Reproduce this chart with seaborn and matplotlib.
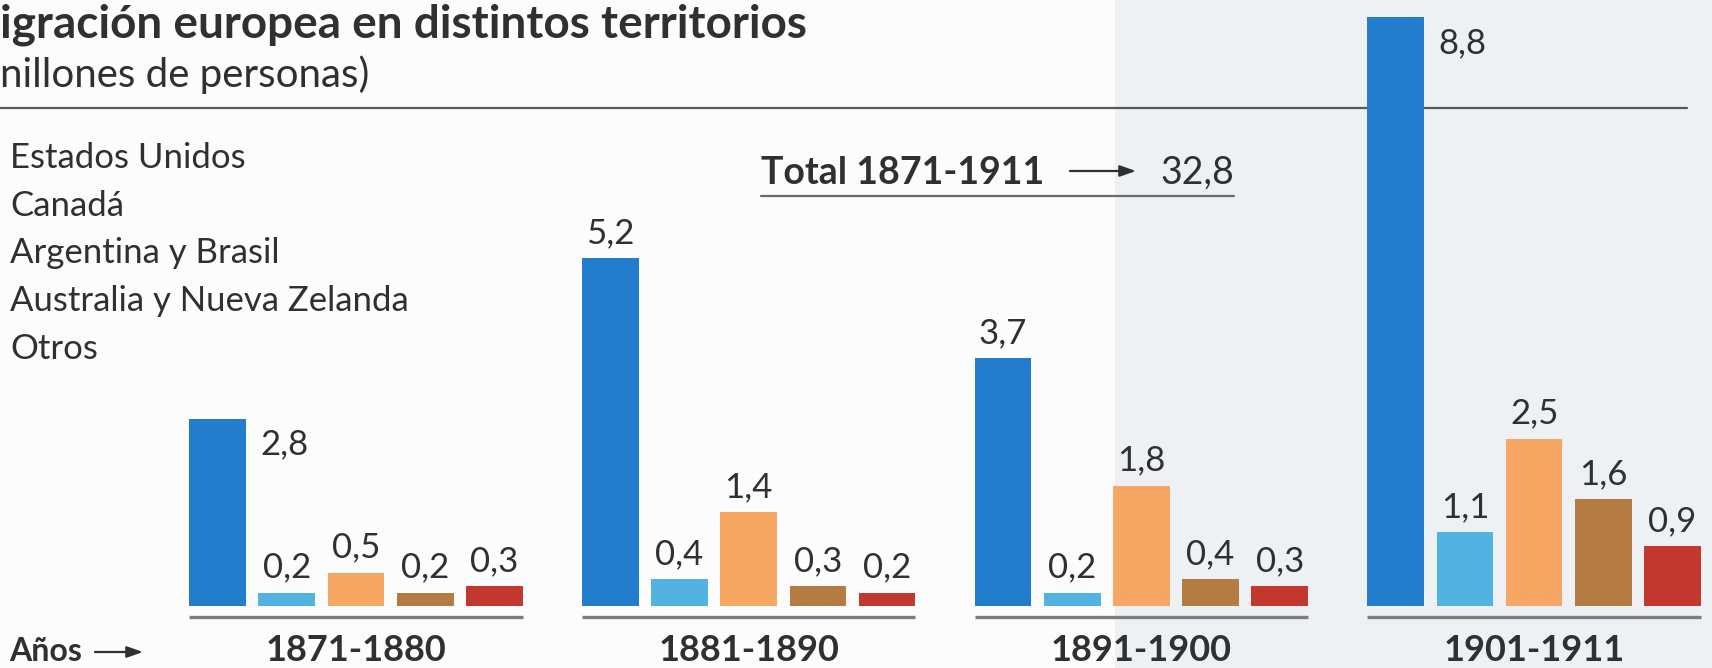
import matplotlib
matplotlib.use("Agg")
import matplotlib.pyplot as plt
from matplotlib.lines import Line2D
from matplotlib.patches import Rectangle
import seaborn as sns
import pandas as pd

# ---------------- data ----------------
periods = ["1871-1880", "1881-1890", "1891-1900", "1901-1911"]
regions = ["Estados Unidos", "Canadá", "Argentina y Brasil",
           "Australia y Nueva Zelanda", "Otros"]
estados_unidos = [2.8, 5.2, 3.7, 8.8]
canada = [0.2, 0.4, 0.2, 1.1]
argentina_brasil = [0.5, 1.4, 1.8, 2.5]
australia_nz = [0.2, 0.3, 0.4, 1.6]
otros = [0.3, 0.2, 0.3, 0.9]
colors = ["#237dcd", "#52b3e0", "#f5a763", "#b47c42", "#c3382e"]
title = "igración europea en distintos territorios"
subtitle = "nillones de personas)"
total_label = "Total 1871-1911"
total_value = "32,8"
axis_label = "Años"

# ---------------- figure ----------------
W, H = 1712, 668
sns.set_theme(style="white")
plt.rcParams["font.family"] = ["Lato", "DejaVu Sans"]
TXT = "#2e3032"

fig = plt.figure(figsize=(W / 100, H / 100), dpi=100)
fig.patch.set_facecolor("#fcfcfc")
fig.add_artist(Rectangle((1115 / W, 0), 1 - 1115 / W, 1, transform=fig.transFigure,
                         facecolor="#edf1f4", edgecolor="none", zorder=-1))

ax = fig.add_axes([0, 0, 1, 1])
ax.set_facecolor("none")

series = [estados_unidos, canada, argentina_brasil, australia_nz, otros]
rows = []
for reg, vals in zip(regions, series):
    for per, v in zip(periods, vals):
        rows.append({"period": per, "region": reg, "value": v})
df = pd.DataFrame(rows)

sns.barplot(data=df, x="period", y="value", hue="region", order=periods,
            hue_order=regions, palette=colors, width=0.881, gap=0.18,
            saturation=1, legend=False, ax=ax, zorder=3, linewidth=0)

PX = 66.9      # pixels per million
BASE = 606     # baseline, pixels from top
GX0, GSP = 356, 392.7
ax.set_xlim(-GX0 / GSP, (W - GX0) / GSP)
ax.set_ylim(-(H - BASE) / PX, BASE / PX)
ax.axis("off")

# top rule (behind bars)
ax.add_line(Line2D([0, 1687 / W], [1 - 108 / H] * 2, transform=fig.transFigure,
                   color="#5a5a5a", lw=1.6, zorder=1))

FS = 25
# value labels
for hi, cont in enumerate(ax.containers):
    for gi, bar in enumerate(cont):
        v = bar.get_height()
        txt = f"{v:.1f}".replace(".", ",")
        if hi == 0 and gi in (0, 3):
            ax.annotate(txt, (bar.get_x() + bar.get_width(), v),
                        xytext=(14 * 0.72, -36 * 0.72), textcoords="offset points",
                        ha="left", va="baseline", fontsize=FS, color=TXT, zorder=5)
        else:
            ax.annotate(txt, (bar.get_x() + bar.get_width() / 2, v),
                        xytext=(0, 15 * 0.72), textcoords="offset points",
                        ha="center", va="baseline", fontsize=FS, color=TXT, zorder=5)

# group underlines and period labels
for gi, per in enumerate(periods):
    x0 = ax.containers[0][gi].get_x()
    last = ax.containers[-1][gi]
    x1 = last.get_x() + last.get_width()
    ax.plot([x0, x1], [-11 / PX] * 2, color="#7d7d7d", lw=2.4,
            solid_capstyle="butt", zorder=2)
    ax.text((x0 + x1) / 2, -(661 - BASE) / PX, per, ha="center", va="baseline",
            fontsize=26, fontweight="bold", color=TXT)

def ftext(x, y, s, **kw):
    fig.text(x / W, 1 - y / H, s, color=TXT, **kw)

# title
ftext(0, 38, title, fontsize=33, fontweight="bold", ha="left", va="baseline")
ftext(0, 87, subtitle, fontsize=29, ha="left", va="baseline")

# legend texts
for i, reg in enumerate(regions):
    ftext(10, 168 + i * 47.7, reg, fontsize=FS, ha="left", va="baseline")

# total
ftext(761, 184, total_label, fontsize=27, fontweight="bold", ha="left", va="baseline")
ftext(1234, 184, total_value, fontsize=27, ha="right", va="baseline")
fig.add_artist(Line2D([761 / W, 1234 / W], [1 - 196 / H] * 2, transform=fig.transFigure,
                      color="#6a6a6a", lw=1.6))
ax.annotate("", xy=(1136, H - 171), xytext=(1070, H - 171), xycoords="figure pixels",
            arrowprops=dict(arrowstyle="-|>,head_length=0.8,head_width=0.28",
                            color=TXT, lw=1.6, shrinkA=0, shrinkB=0))

# Años ->
ftext(9, 661, axis_label, fontsize=23, fontweight="bold", ha="left", va="baseline")
ax.annotate("", xy=(143, H - 652), xytext=(95, H - 652), xycoords="figure pixels",
            arrowprops=dict(arrowstyle="-|>,head_length=0.8,head_width=0.28",
                            color=TXT, lw=1.6, shrinkA=0, shrinkB=0))

fig.savefig("out.png", dpi=100, facecolor=fig.get_facecolor())
